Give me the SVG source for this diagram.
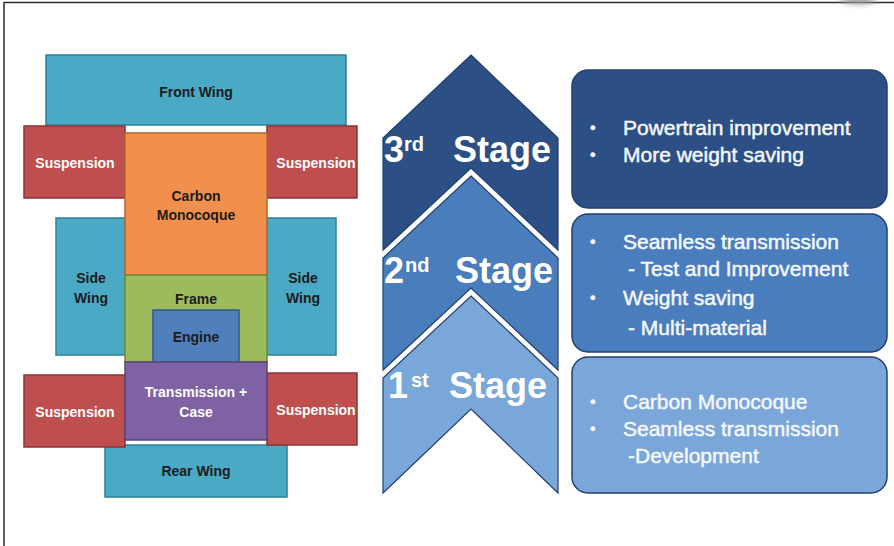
<svg xmlns="http://www.w3.org/2000/svg" width="894" height="546" viewBox="0 0 894 546">
  <defs>
    <filter id="soft" x="-50%" y="-50%" width="200%" height="200%">
      <feGaussianBlur stdDeviation="3"/>
    </filter>
  </defs>
  <style>
    .lbl { font-family: "Liberation Sans", Arial, sans-serif; font-weight: bold; font-size: 14px; text-anchor: middle; }
    .dark { fill: #1c1c1c; }
    .light { fill: #ffffff; }
    .wing { fill: #4aa9c4; stroke: #2f7f96; stroke-width: 1.5; }
    .susp { fill: #bf4f4f; stroke: #8a3534; stroke-width: 1.5; }
    .mono { fill: #f0904c; stroke: #b4682f; stroke-width: 1.5; }
    .frame { fill: #9cbb5c; stroke: #6f8a3d; stroke-width: 1.5; }
    .eng { fill: #4f7fbd; stroke: #36598a; stroke-width: 1.5; }
    .trans { fill: #7e62a3; stroke: #5a4576; stroke-width: 1.5; }
    .chev { stroke: #23406e; stroke-width: 1.2; stroke-linejoin: miter; }
    .stg { font-family: "Liberation Sans", Arial, sans-serif; font-weight: bold; fill: #ffffff; }
    .big { font-size: 36px; }
    .sup { font-size: 20px; }
    .card { stroke: #22406a; stroke-width: 1.5; }
    .item { font-family: "Liberation Sans", Arial, sans-serif; font-size: 21px; fill: #f4f7fb; stroke: #f4f7fb; stroke-width: 0.5; }
    .dot { font-size: 16px; }
  </style>

  <!-- frame lines -->
  <line x1="4" y1="2.5" x2="894" y2="2.5" stroke="#2a2a2a" stroke-width="1.5"/>
  <line x1="4" y1="2" x2="4" y2="546" stroke="#2a2a2a" stroke-width="1.5"/>
  <ellipse cx="858" cy="-1" rx="18" ry="5" fill="#9a9a9a" filter="url(#soft)"/>

  <!-- vehicle layout -->
  <g id="front-wing">
    <rect class="wing" x="46" y="55" width="300" height="70"/>
    <text class="lbl dark" x="196" y="97">Front Wing</text>
  </g>
  <g id="side-wing-left">
    <rect class="wing" x="56" y="218" width="69" height="137"/>
    <text class="lbl dark" x="91" y="283">Side</text>
    <text class="lbl dark" x="91" y="303">Wing</text>
  </g>
  <g id="side-wing-right">
    <rect class="wing" x="267" y="218" width="69" height="137"/>
    <text class="lbl dark" x="303" y="283">Side</text>
    <text class="lbl dark" x="303" y="303">Wing</text>
  </g>
  <g id="rear-wing">
    <rect class="wing" x="105" y="445" width="182" height="52"/>
    <text class="lbl dark" x="196" y="476">Rear Wing</text>
  </g>
  <g id="suspension-front-left">
    <rect class="susp" x="24" y="126" width="101" height="72"/>
    <text class="lbl light" x="75" y="168">Suspension</text>
  </g>
  <g id="suspension-front-right">
    <rect class="susp" x="267" y="126" width="90" height="72"/>
    <text class="lbl light" x="316" y="168">Suspension</text>
  </g>
  <g id="carbon-monocoque">
    <rect class="mono" x="125" y="133" width="142" height="142"/>
    <text class="lbl dark" x="196" y="201">Carbon</text>
    <text class="lbl dark" x="196" y="220">Monocoque</text>
  </g>
  <g id="frame">
    <rect class="frame" x="125" y="275" width="142" height="87"/>
    <text class="lbl dark" x="196" y="304">Frame</text>
  </g>
  <g id="engine">
    <rect class="eng" x="153" y="310" width="86" height="52"/>
    <text class="lbl dark" x="196" y="342">Engine</text>
  </g>
  <g id="suspension-rear-left">
    <rect class="susp" x="24" y="375" width="101" height="72"/>
    <text class="lbl light" x="75" y="417">Suspension</text>
  </g>
  <g id="suspension-rear-right">
    <rect class="susp" x="267" y="373" width="90" height="72"/>
    <text class="lbl light" x="316" y="415">Suspension</text>
  </g>
  <g id="transmission-case">
    <rect class="trans" x="125" y="362" width="142" height="78"/>
    <text class="lbl light" x="196" y="397">Transmission +</text>
    <text class="lbl light" x="196" y="417">Case</text>
  </g>

  <!-- stage chevrons -->
  <g id="stage-3">
    <path class="chev" fill="#2c4f85" d="M471,55 L558,138 L558,250 L471,168 L383,250 L383,138 Z"/>
    <text class="stg big" x="384" y="162">3</text>
    <text class="stg sup" x="404" y="151">rd</text>
    <text class="stg big" x="453" y="162">Stage</text>
  </g>
  <g id="stage-2">
    <path class="chev" fill="#4a7dbb" d="M471,176 L558,258 L558,370 L471,288 L383,370 L383,258 Z"/>
    <text class="stg big" x="384" y="283">2</text>
    <text class="stg sup" x="405" y="272">nd</text>
    <text class="stg big" x="455" y="283">Stage</text>
  </g>
  <g id="stage-1">
    <path class="chev" fill="#7aa7da" d="M471,296 L558,378 L558,493 L471,409 L383,493 L383,378 Z"/>
    <text class="stg big" x="388" y="398">1</text>
    <text class="stg sup" x="411" y="387">st</text>
    <text class="stg big" x="449" y="398">Stage</text>
  </g>

  <!-- stage descriptions -->
  <g id="card-3">
    <rect class="card" fill="#2c4f85" x="572" y="70" width="315" height="138" rx="16"/>
    <text class="item dot" x="590" y="133">•</text>
    <text class="item" x="623" y="135">Powertrain improvement</text>
    <text class="item dot" x="590" y="160">•</text>
    <text class="item" x="623" y="162">More weight saving</text>
  </g>
  <g id="card-2">
    <rect class="card" fill="#4a7dbd" x="572" y="214" width="315" height="138" rx="16"/>
    <text class="item dot" x="590" y="247">•</text>
    <text class="item" x="623" y="249">Seamless transmission</text>
    <text class="item" x="628" y="276">- Test and Improvement</text>
    <text class="item dot" x="590" y="303">•</text>
    <text class="item" x="623" y="305">Weight saving</text>
    <text class="item" x="628" y="335">- Multi-material</text>
  </g>
  <g id="card-1">
    <rect class="card" fill="#7ba6da" x="572" y="357" width="315" height="136" rx="16"/>
    <text class="item dot" x="590" y="407">•</text>
    <text class="item" x="623" y="409">Carbon Monocoque</text>
    <text class="item dot" x="590" y="434">•</text>
    <text class="item" x="623" y="436">Seamless transmission</text>
    <text class="item" x="628" y="463">-Development</text>
  </g>
</svg>
